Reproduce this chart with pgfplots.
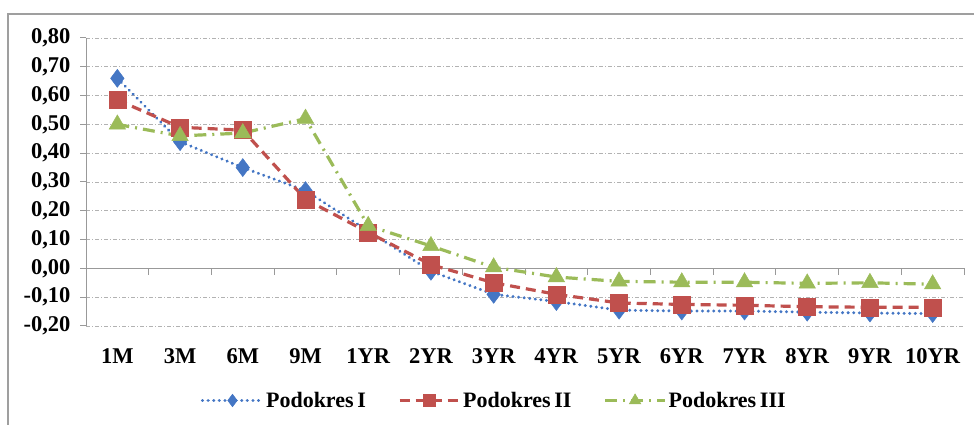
\documentclass[border=0pt]{standalone}
\usepackage{pgfplots}
\pgfplotsset{compat=1.18}
\usepackage{fontspec}
\setmainfont{Liberation Serif}

\definecolor{sblue}{RGB}{68,118,196}
\definecolor{sred}{RGB}{192,80,77}
\definecolor{sgreen}{RGB}{155,187,89}

\begin{document}
\begin{tikzpicture}[x=1pt,y=1pt]
\useasboundingbox (0,0) rectangle (974,425);
\draw[gray!75, line width=1.5pt] (8,-2) -- (8,411) -- (976,411);

\begin{axis}[
    at={(86pt,99pt)}, anchor=south west,
    scale only axis,
    width=878pt, height=288pt,
    xmin=-0.5, xmax=13.5,
    ymin=-0.2, ymax=0.8,
    xtick=data,
    xticklabels={1M,3M,6M,9M,1YR,2YR,3YR,4YR,5YR,6YR,7YR,8YR,9YR,10YR},
    ytick={-0.2,-0.1,...,0.81},
    yticklabel={\pgfmathprintnumber[fixed,fixed zerofill,precision=2,use comma]{\tick}},
    /pgf/number format/assume math mode=true,
    ticklabel style={font=\fontsize{22.5}{25}\selectfont\bfseries},
    yticklabel style={xshift=-12pt},
    xticklabel style={yshift=-19pt},
    axis line style={draw=none},
    tick style={draw=none},
    ymajorgrids,
    major grid style={gray!60, line width=0.8pt, dash pattern=on 4pt off 2pt on 1pt off 2pt},
    clip=false,
    legend style={at={(0.465,-0.215)}, anchor=north, draw=none, fill=none,
        font=\fontsize{22}{25}\selectfont\bfseries, legend columns=3,
        /tikz/every even column/.append style={column sep=30pt}},
    legend image code/.code={
        \draw[mark repeat=2,mark phase=2,every mark/.append style={scale=0.7}]
            plot coordinates {(0pt,0pt) (30pt,0pt) (60pt,0pt)};},
]
% axis lines and tick marks
\draw[gray!80, line width=1pt] (axis cs:-0.5,-0.2) -- (axis cs:-0.5,0.8);
\draw[gray!80, line width=1pt] (axis cs:-0.5,0) -- (axis cs:13.5,0);
\pgfplotsinvokeforeach{-0.2,-0.1,0,0.1,0.2,0.3,0.4,0.5,0.6,0.7,0.8}{
    \draw[gray!80, line width=1pt] (axis cs:-0.5,#1) -- (axis cs:-0.596,#1);
}
\pgfplotsinvokeforeach{0.5,1.5,2.5,3.5,4.5,5.5,6.5,7.5,8.5,9.5,10.5,11.5,12.5,13.5}{
    \draw[gray!80, line width=1pt] (axis cs:#1,0) -- (axis cs:#1,-0.0243);
}

\addplot[sblue, line width=3.2pt, dash pattern=on 0.1pt off 5.5pt, line cap=round,
    mark=diamond*, mark size=9pt, mark options={solid, fill=sblue, draw=sblue, line width=0.5pt}]
coordinates {
(0,0.66) (1,0.44) (2,0.35) (3,0.27) (4,0.13) (5,-0.01) (6,-0.09)
(7,-0.115) (8,-0.145) (9,-0.148) (10,-0.148) (11,-0.152) (12,-0.155) (13,-0.157)
};
\addlegendentry{Podokres\,I}

\addplot[sred, line width=3.2pt, dash pattern=on 10pt off 6pt,
    mark=square*, mark size=8.5pt, mark options={solid, fill=sred, draw=sred, line width=0.5pt}]
coordinates {
(0,0.585) (1,0.49) (2,0.48) (3,0.24) (4,0.125) (5,0.013) (6,-0.05)
(7,-0.09) (8,-0.12) (9,-0.125) (10,-0.128) (11,-0.133) (12,-0.135) (13,-0.135)
};
\addlegendentry{Podokres\,II}

\addplot[sgreen, line width=3.2pt, dash pattern=on 12pt off 6pt on 2pt off 6pt,
    mark=triangle*, mark size=9.5pt, mark options={solid, fill=sgreen, draw=sgreen, line width=0.5pt}]
coordinates {
(0,0.50) (1,0.46) (2,0.47) (3,0.52) (4,0.148) (5,0.078) (6,0.004)
(7,-0.03) (8,-0.045) (9,-0.048) (10,-0.048) (11,-0.052) (12,-0.05) (13,-0.055)
};
\addlegendentry{Podokres\,III}
\end{axis}
\end{tikzpicture}
\end{document}
